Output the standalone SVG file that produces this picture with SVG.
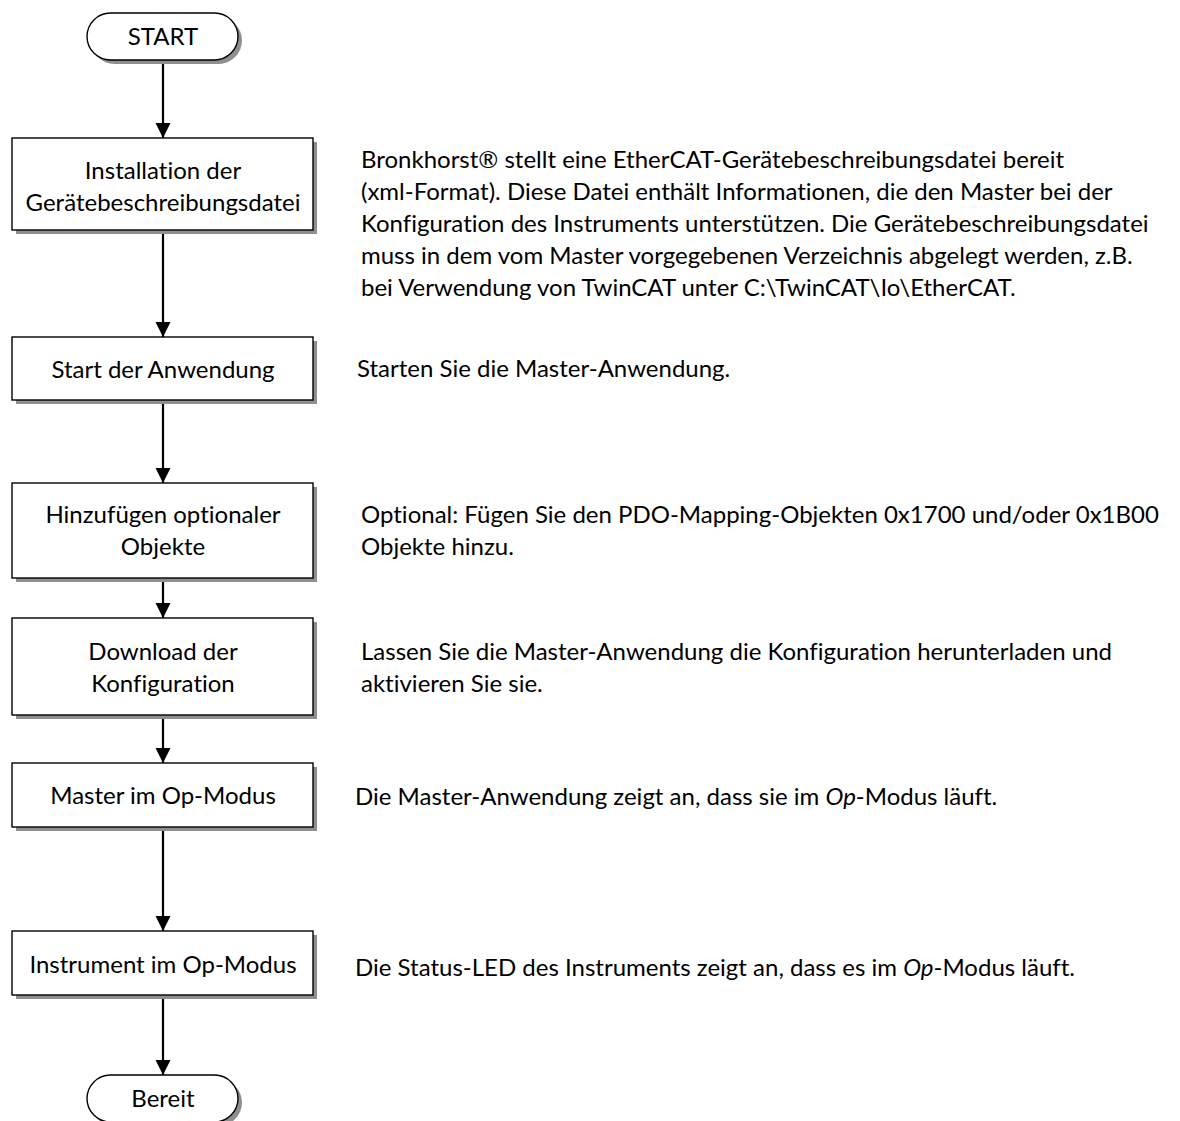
<svg xmlns="http://www.w3.org/2000/svg" width="1180" height="1121" viewBox="0 0 1180 1121">
<defs>
<style>
.shadow{fill:#8f8f8f;stroke:none}
.box{fill:#ffffff;stroke:#000000;stroke-width:1.4}
.lbl{font-family:Lato,"Liberation Sans",sans-serif;font-size:24px;fill:#000000;text-anchor:middle;font-variant-ligatures:none}
.desc{font-family:Lato,"Liberation Sans",sans-serif;font-size:24px;fill:#000000;font-variant-ligatures:none}
.conn{stroke:#000000;stroke-width:2.2;fill:none;marker-end:url(#arr)}
</style>
<marker id="arr" markerUnits="userSpaceOnUse" markerWidth="15" markerHeight="16" refX="15" refY="7.5" orient="auto">
<path d="M0,0 L15,7.5 L0,15 z" fill="#000000"/>
</marker>
</defs>
<rect width="1180" height="1121" fill="#ffffff"/>
<g id="connectors">
<line class="conn" x1="163" y1="60" x2="163" y2="138"/>
<line class="conn" x1="163" y1="230" x2="163" y2="337"/>
<line class="conn" x1="163" y1="400" x2="163" y2="483"/>
<line class="conn" x1="163" y1="578" x2="163" y2="618"/>
<line class="conn" x1="163" y1="715" x2="163" y2="763"/>
<line class="conn" x1="163" y1="827" x2="163" y2="931"/>
<line class="conn" x1="163" y1="995" x2="163" y2="1075"/>
</g>
<g id="node-start">
<rect class="shadow" x="91" y="17" width="151" height="47" rx="23.5"/>
<rect class="box" x="87" y="13" width="151" height="47" rx="23.5"/>
<text class="lbl" x="163" y="45">START</text>
</g>
<g id="node-install">
<rect class="shadow" x="16" y="142" width="301" height="92"/>
<rect class="box" x="12" y="138" width="301" height="92"/>
<text class="lbl" x="163" y="179">Installation der</text>
<text class="lbl" x="163" y="211">Gerätebeschreibungsdatei</text>
</g>
<g id="node-startapp">
<rect class="shadow" x="16" y="341" width="301" height="63"/>
<rect class="box" x="12" y="337" width="301" height="63"/>
<text class="lbl" x="163" y="378">Start der Anwendung</text>
</g>
<g id="node-add">
<rect class="shadow" x="16" y="487" width="301" height="95"/>
<rect class="box" x="12" y="483" width="301" height="95"/>
<text class="lbl" x="163" y="523">Hinzufügen optionaler</text>
<text class="lbl" x="163" y="555">Objekte</text>
</g>
<g id="node-download">
<rect class="shadow" x="16" y="622" width="301" height="97"/>
<rect class="box" x="12" y="618" width="301" height="97"/>
<text class="lbl" x="163" y="660">Download der</text>
<text class="lbl" x="163" y="692">Konfiguration</text>
</g>
<g id="node-master">
<rect class="shadow" x="16" y="767" width="301" height="64"/>
<rect class="box" x="12" y="763" width="301" height="64"/>
<text class="lbl" x="163" y="804">Master im Op-Modus</text>
</g>
<g id="node-instrument">
<rect class="shadow" x="16" y="935" width="301" height="64"/>
<rect class="box" x="12" y="931" width="301" height="64"/>
<text class="lbl" x="163" y="973">Instrument im Op-Modus</text>
</g>
<g id="node-bereit">
<rect class="shadow" x="91" y="1079" width="151" height="47" rx="23.5"/>
<rect class="box" x="87" y="1075" width="151" height="47" rx="23.5"/>
<text class="lbl" x="163" y="1107">Bereit</text>
</g>
<g id="descriptions">
<text class="desc" x="361" y="168">Bronkhorst® stellt eine EtherCAT-Gerätebeschreibungsdatei bereit</text>
<text class="desc" x="361" y="200">(xml-Format). Diese Datei enthält Informationen, die den Master bei der</text>
<text class="desc" x="361" y="232">Konfiguration des Instruments unterstützen. Die Gerätebeschreibungsdatei</text>
<text class="desc" x="361" y="264">muss in dem vom Master vorgegebenen Verzeichnis abgelegt werden, z.B.</text>
<text class="desc" x="361" y="296">bei Verwendung von TwinCAT unter C:\TwinCAT\Io\EtherCAT.</text>
<text class="desc" x="357" y="377">Starten Sie die Master-Anwendung.</text>
<text class="desc" x="361" y="523">Optional: Fügen Sie den PDO-Mapping-Objekten 0x1700 und/oder 0x1B00</text>
<text class="desc" x="361" y="555">Objekte hinzu.</text>
<text class="desc" x="361" y="660">Lassen Sie die Master-Anwendung die Konfiguration herunterladen und</text>
<text class="desc" x="361" y="692">aktivieren Sie sie.</text>
<text class="desc" x="355" y="805">Die Master-Anwendung zeigt an, dass sie im <tspan font-style="italic">Op</tspan>-Modus läuft.</text>
<text class="desc" x="355" y="976">Die Status-LED des Instruments zeigt an, dass es im <tspan font-style="italic">Op</tspan>-Modus läuft.</text>
</g>
</svg>
